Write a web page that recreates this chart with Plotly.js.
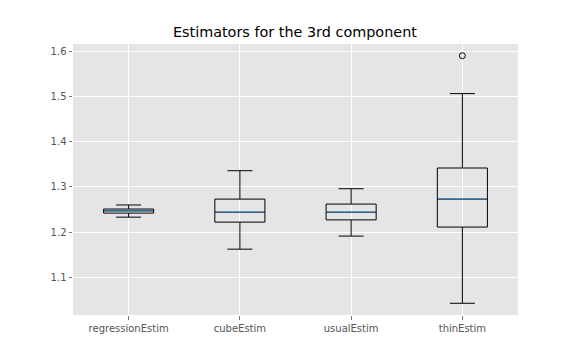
<!DOCTYPE html>
<html>
<head>
<meta charset="utf-8">
<script src="https://cdn.plot.ly/plotly-3.0.1.min.js"></script>
<style>
  html, body { margin: 0; padding: 0; background: #fff; }
  #chart { width: 576px; height: 360px; }
</style>
</head>
<body>
<div id="chart"></div>
<script>
// box statistics
let estimators = ['regressionEstim', 'cubeEstim', 'usualEstim', 'thinEstim'];
let lowerWhisker = [1.233, 1.162, 1.191, 1.042];
let q1Values = [1.242, 1.222, 1.227, 1.211];
let medians = [1.247, 1.244, 1.244, 1.273];
let q3Values = [1.251, 1.273, 1.262, 1.342];
let upperWhisker = [1.260, 1.336, 1.296, 1.507];

// fliers
let outlierX = ['thinEstim'];
let outlierY = [1.591];

let chart = document.getElementById('chart');
let boxWidth = 0.45;

let boxes = estimators.map(function(name, i) {
    return {
        type: 'box',
        name: name,
        x: [name],
        q1: [q1Values[i]],
        median: [medians[i]],
        q3: [q3Values[i]],
        lowerfence: [lowerWhisker[i]],
        upperfence: [upperWhisker[i]],
        fillcolor: 'rgba(0,0,0,0)',
        line: {color: '#000', width: 1},
        width: boxWidth,
        whiskerwidth: 0.5,
        boxpoints: false,
        hoverinfo: 'skip',
        showlegend: false
    };
});

let fliers = {
    type: 'scatter',
    mode: 'markers',
    x: outlierX,
    y: outlierY,
    marker: {symbol: 'circle-open', size: 6, color: '#000', line: {width: 1}},
    hoverinfo: 'skip',
    showlegend: false
};

// blue median lines, as matplotlib draws them
let medianShapes = medians.map(function(m, i) {
    return {
        type: 'line',
        xref: 'x', yref: 'y',
        x0: i - boxWidth / 2 + 0.01, x1: i + boxWidth / 2 - 0.01,
        y0: m, y1: m,
        line: {color: '#1f77b4', width: 1},
        layer: 'above'
    };
});

let layout = {
    width: 576,
    height: 360,
    margin: {l: 73, r: 58, t: 44, b: 45},
    paper_bgcolor: '#ffffff',
    plot_bgcolor: '#e5e5e5',
    font: {family: 'DejaVu Sans', color: '#555555', size: 10},
    title: {
        text: 'Estimators for the 3rd component',
        font: {family: 'DejaVu Sans', size: 14.4, color: '#000'},
        x: 0.512,
        xanchor: 'center',
        y: 0.91,
        yanchor: 'middle'
    },
    shapes: medianShapes,
    xaxis: {
        type: 'category',
        categoryorder: 'array',
        categoryarray: estimators,
        range: [-0.5, 3.5],
        showgrid: true,
        gridcolor: '#ffffff',
        gridwidth: 1,
        zeroline: false,
        ticks: 'outside',
        ticklen: 3.5,
        tickcolor: '#555555',
        tickwidth: 0.8,
        fixedrange: true
    },
    yaxis: {
        range: [1.016, 1.617],
        tickvals: [1.1, 1.2, 1.3, 1.4, 1.5, 1.6],
        ticktext: ['1.1', '1.2', '1.3', '1.4', '1.5', '1.6'],
        showgrid: true,
        gridcolor: '#ffffff',
        gridwidth: 1,
        zeroline: false,
        ticks: 'outside',
        ticklen: 3.5,
        tickcolor: '#555555',
        tickwidth: 0.8,
        fixedrange: true
    }
};

Plotly.newPlot(chart, boxes.concat([fliers]), layout, {displayModeBar: false, staticPlot: true});
</script>
</body>
</html>
